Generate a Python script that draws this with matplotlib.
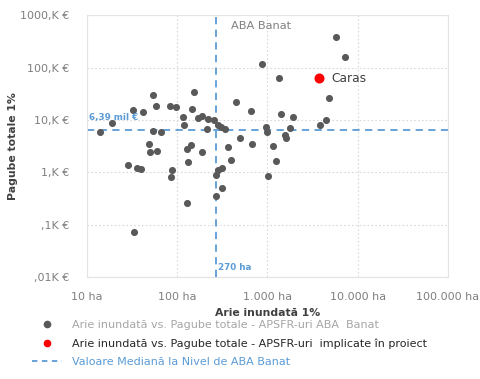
import matplotlib
matplotlib.use("Agg")
import matplotlib.pyplot as plt
from matplotlib.lines import Line2D
from matplotlib.ticker import FixedLocator, NullLocator

# Data (area in ha, damages in thousand €)
area_all = [13.9, 18.9, 28.1, 32.6, 33.2, 35.4, 39.2, 42.1, 48.7, 50.3,
            53.2, 53.9, 58.2, 59.7, 66.6, 83.2, 95.8, 86.9, 84.9, 114.5,
            119.9, 126.8, 143.3, 130, 129.4, 144.1, 154.9, 171.4, 188.4, 187.4,
            211.8, 221.3, 252.5, 269.4, 269.4, 285.5, 311.3, 311.3, 279.6, 306.2,
            338.8, 369, 390, 442.6, 496.9, 649.7, 675, 864.7, 972.6, 982,
            1023, 1153, 1230, 1356, 1397, 1567, 1607, 1781, 1909, 3784,
            4467, 4859, 5770, 7261]
damage_all = [5.93, 8.69, 1.37, 15.4, 0.072, 1.23, 1.14, 14.2, 3.45, 2.43,
              29.4, 6.19, 18.3, 2.56, 5.93, 18.3, 17.9, 1.10, 0.81, 11.5,
              8.05, 2.77, 3.30, 1.57, 0.262, 16.1, 34.0, 10.7, 11.8, 2.43,
              6.62, 10.4, 10.0, 0.885, 0.352, 1.10, 1.19, 0.51, 7.96, 7.29,
              6.82, 2.99, 1.69, 21.9, 4.59, 14.5, 3.50, 116, 7.38, 5.98,
              0.846, 3.12, 1.67, 62.8, 12.9, 5.13, 4.59, 6.98, 11.3, 7.94,
              10.1, 26.4, 375, 156]
area_proj = [3687]
damage_proj = [61.9]
proj_names = ["Caras"]
median_area = 270
median_damage = 6.39

x_ticks = [10, 100, 1000, 10000, 100000]
x_labels = ["10 ha", "100 ha", "1.000 ha", "10.000 ha", "100.000 ha"]
y_ticks = [0.01, 0.1, 1, 10, 100, 1000]
y_labels = [",01K €", ",1K €", "1,K €", "10,K €", "100,K €", "1000,K €"]

legend_labels = ["Arie inundată vs. Pagube totale - APSFR-uri ABA  Banat",
                 "Arie inundată vs. Pagube totale - APSFR-uri  implicate în proiect",
                 "Valoare Mediană la Nivel de ABA Banat"]

GRAY = "#595959"
BLUE = "#5B9BD5"
TXT = "#7F7F7F"

plt.rcParams['font.family'] = ['DejaVu Sans']

fig = plt.figure(figsize=(4.81, 3.79), dpi=100)
ax = fig.add_axes([0.181, 0.269, 0.750, 0.691])

ax.set_xscale("log")
ax.set_yscale("log")
ax.set_xlim(10, 100000)
ax.set_ylim(0.01, 1000)

ax.xaxis.set_major_locator(FixedLocator(x_ticks))
ax.xaxis.set_minor_locator(NullLocator())
ax.set_xticklabels(x_labels)
ax.yaxis.set_major_locator(FixedLocator(y_ticks))
ax.yaxis.set_minor_locator(NullLocator())
ax.set_yticklabels(y_labels)
ax.tick_params(axis="x", length=0, labelsize=8, labelcolor=TXT, pad=11)
ax.tick_params(axis="y", length=0, labelsize=8, labelcolor=TXT, pad=13)

ax.grid(True, which="major", color="#D9D9D9", linestyle=(0, (1.5, 2)), linewidth=0.8)
ax.set_axisbelow(True)
for s in ax.spines.values():
    s.set_color("#E3E3E3")
    s.set_linewidth(0.8)

ax.scatter(area_all, damage_all, s=26, color=GRAY, zorder=3, linewidths=0)
ax.scatter(area_proj, damage_proj, s=52, color="#FF0000", zorder=4, linewidths=0)
for xa, yd, nm in zip(area_proj, damage_proj, proj_names):
    ax.annotate(nm, (xa, yd), xytext=(9, 0), textcoords="offset points",
                va="center", ha="left", fontsize=8.8, color="#404040")

ax.axhline(median_damage, color=BLUE, linestyle=(0, (4, 3)), linewidth=1.3, zorder=2)
ax.axvline(median_area, color=BLUE, linestyle=(0, (4, 3)), linewidth=1.3, zorder=2)

ax.text(10.4, median_damage * 1.45, "6,39 mil €", color=BLUE, fontsize=6.3,
        fontweight="bold", ha="left", va="bottom")
ax.text(median_area * 1.05, 0.0125, "270 ha", color=BLUE, fontsize=6.3,
        fontweight="bold", ha="left", va="bottom")

ax.text(0.40, 0.978, "ABA Banat", transform=ax.transAxes, fontsize=8.2,
        color="#808080", ha="left", va="top")

ax.set_xlabel("Arie inundată 1%", fontsize=7.8, color="#404040", fontweight="bold", labelpad=4)
ax.set_ylabel("Pagube totale 1%", fontsize=7.8, color="#404040", fontweight="bold", labelpad=1)

handles = [Line2D([], [], marker="o", linestyle="none", color=GRAY, markersize=4.5),
           Line2D([], [], marker="o", linestyle="none", color="#FF0000", markersize=4.5),
           Line2D([], [], color=BLUE, linestyle=(0, (3, 2.5)), linewidth=1.3)]
leg = fig.legend(handles, legend_labels, loc="upper left",
                 bbox_to_anchor=(0.066, 0.155), frameon=False, fontsize=8.0,
                 handlelength=2.7, handletextpad=0.9, labelspacing=0.72,
                 borderaxespad=0, borderpad=0)
text_colors = ["#A6A6A6", "#262626", BLUE]
for t, c in zip(leg.get_texts(), text_colors):
    t.set_color(c)

fig.savefig("out.png", dpi=100)
